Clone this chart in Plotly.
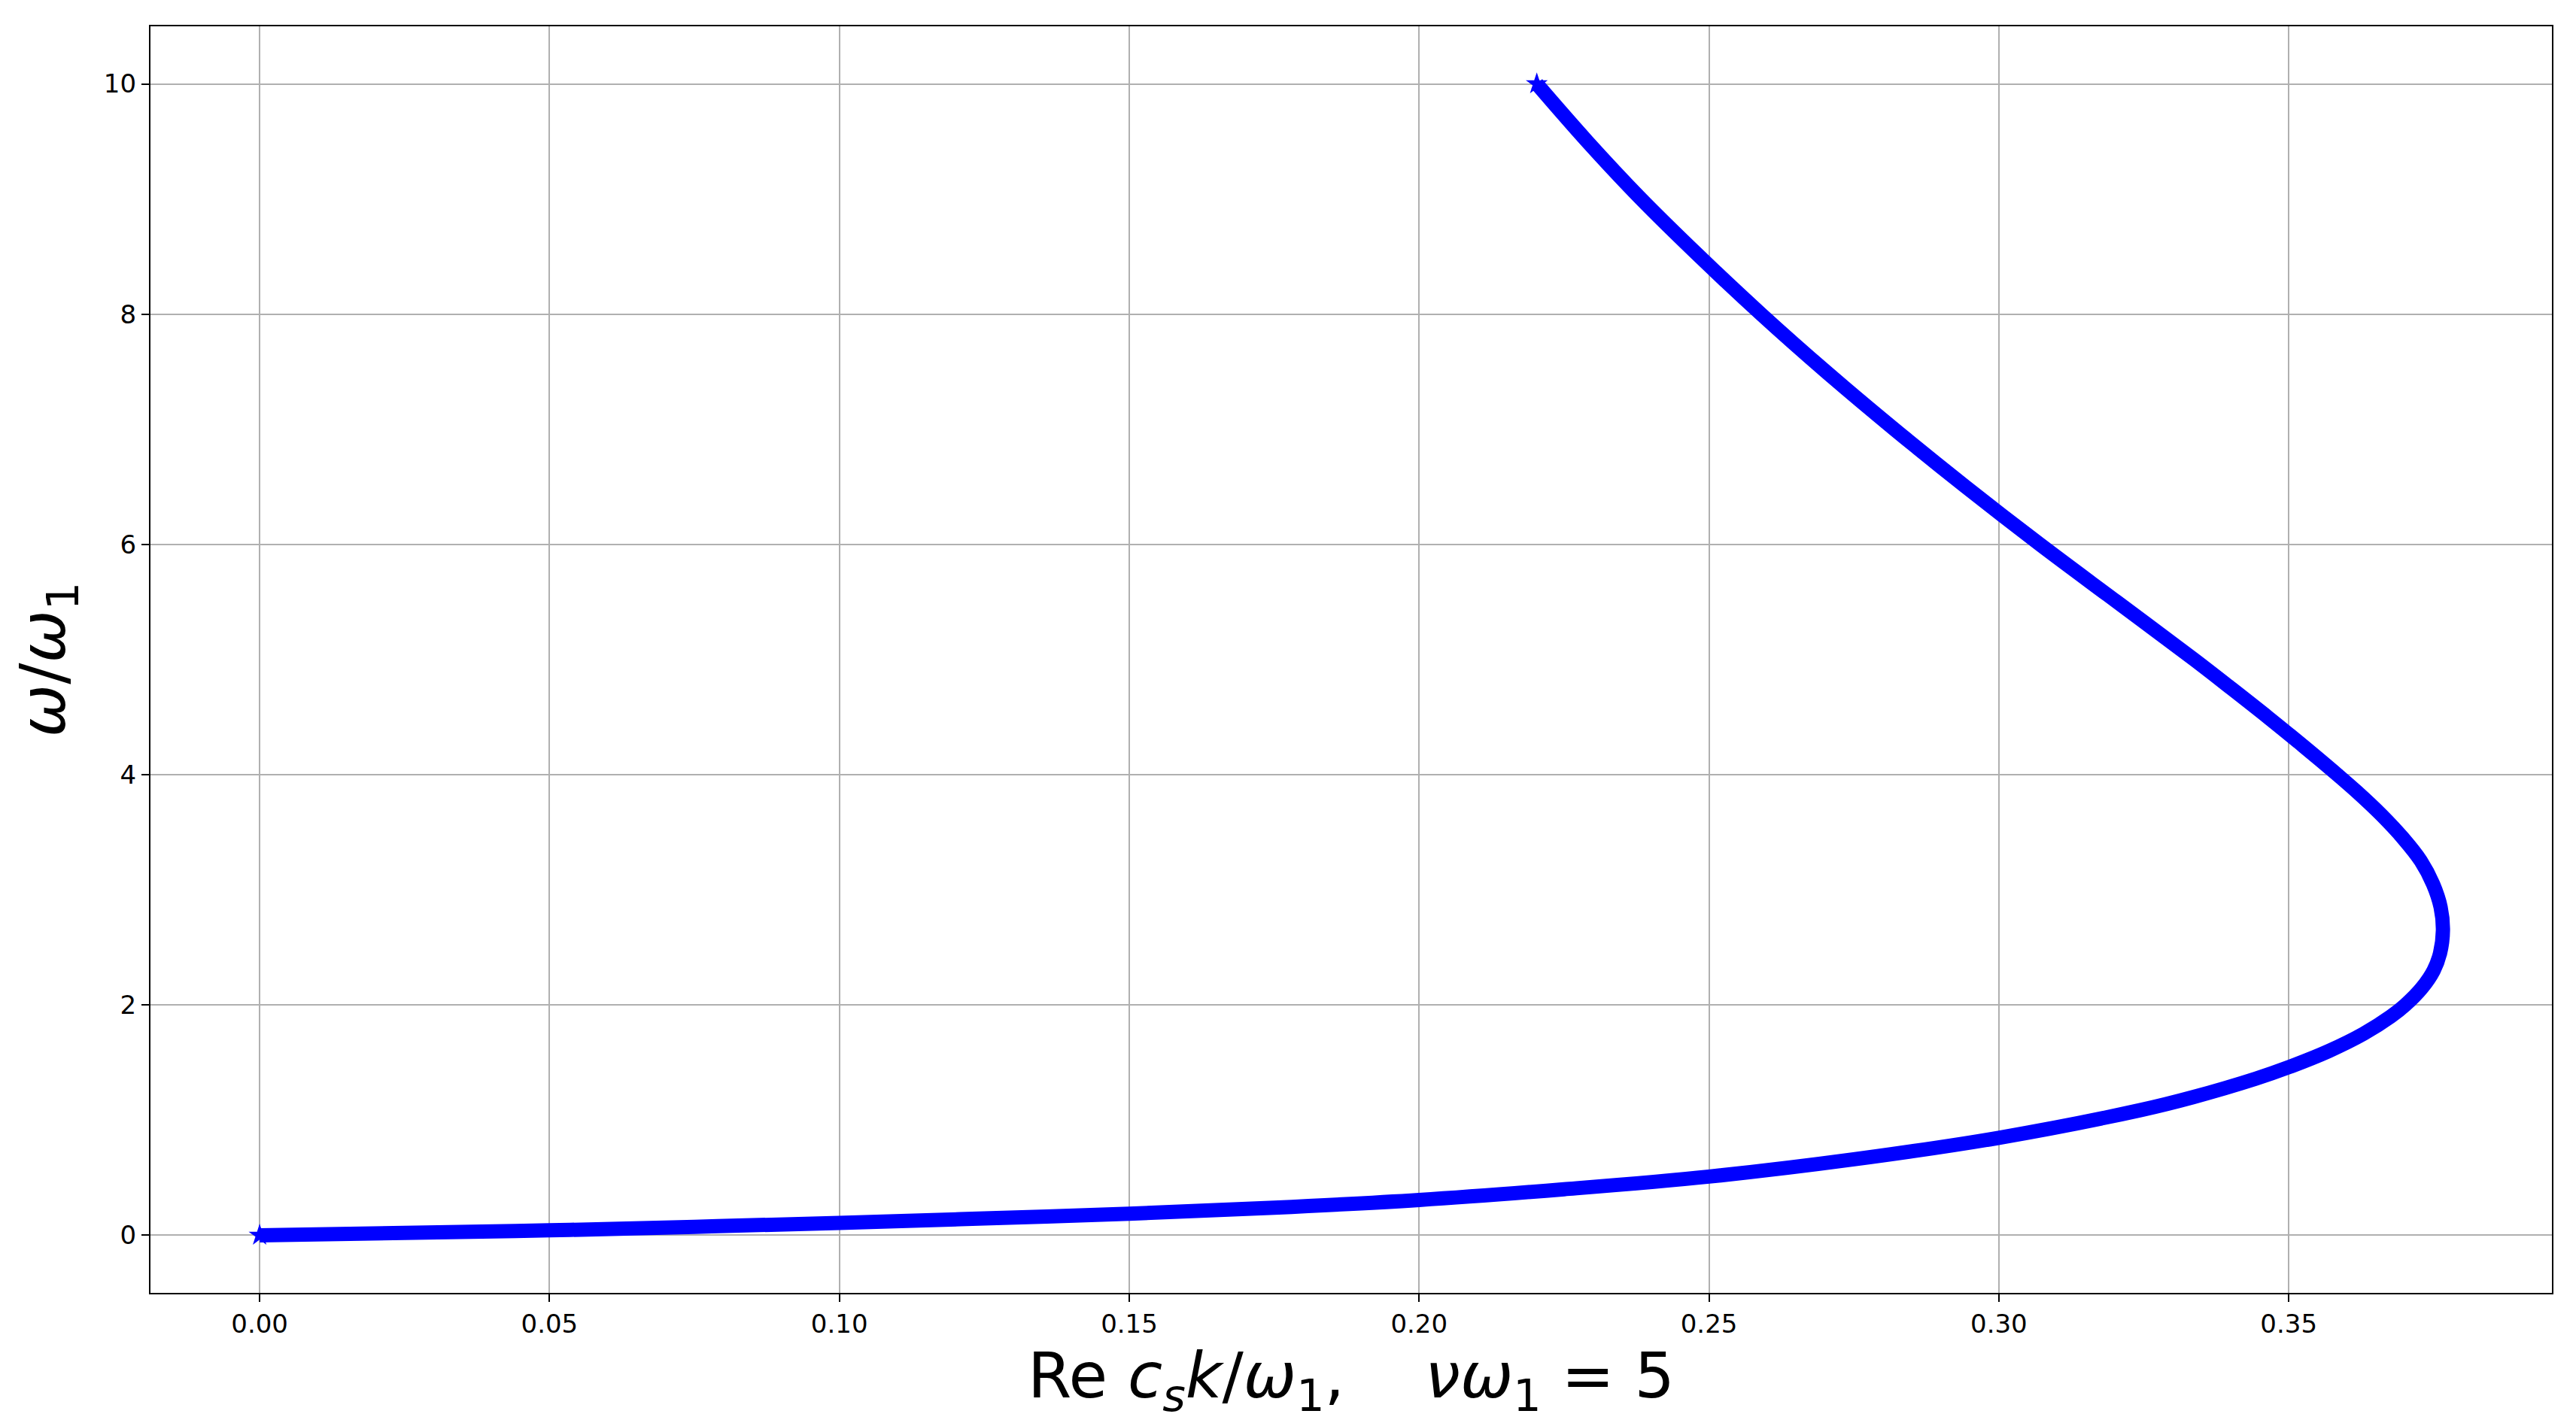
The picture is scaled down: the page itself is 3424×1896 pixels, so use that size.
import plotly.graph_objects as go

# Curve: Re c_s k / omega_1 (x) vs omega/omega_1 (y)
re_k = [0.000, 0.025, 0.050, 0.075, 0.100, 0.125, 0.150, 0.175, 0.200, 0.225,
        0.250, 0.275, 0.300, 0.3245, 0.3335, 0.3443, 0.3500, 0.3569, 0.3629,
        0.3676, 0.3701, 0.3730, 0.3750, 0.3761, 0.3766, 0.3762, 0.3749,
        0.3728, 0.3697, 0.3660, 0.3618, 0.3584, 0.3525, 0.3464, 0.3401,
        0.3337, 0.3204, 0.3071, 0.2943, 0.2820, 0.2702, 0.2590, 0.2484,
        0.2383, 0.2290, 0.2203]
omega = [0.000, 0.021, 0.043, 0.074, 0.108, 0.146, 0.187, 0.240, 0.307, 0.400,
         0.510, 0.660, 0.847, 1.088, 1.200, 1.360, 1.460, 1.600, 1.750,
         1.900, 2.000, 2.150, 2.300, 2.450, 2.650, 2.850, 3.050,
         3.250, 3.450, 3.650, 3.850, 4.000, 4.250, 4.500, 4.750,
         5.000, 5.500, 6.000, 6.500, 7.000, 7.500, 8.000, 8.500,
         9.000, 9.500, 10.000]

x_ticks = [0.00, 0.05, 0.10, 0.15, 0.20, 0.25, 0.30, 0.35]
y_ticks = [0, 2, 4, 6, 8, 10]

FONT = "DejaVu Sans"

fig = go.Figure()
fig.add_trace(go.Scatter(
    x=re_k, y=omega, mode="lines",
    line=dict(color="#0000ff", width=19, shape="spline", smoothing=1.0),
    showlegend=False,
))
fig.add_trace(go.Scatter(
    x=[re_k[0], re_k[-1]], y=[omega[0], omega[-1]], mode="markers",
    marker=dict(symbol="star", size=22, color="#0000ff", line=dict(width=0)),
    showlegend=False,
))

axis_common = dict(
    showline=True, linecolor="black", linewidth=2.2, mirror=True,
    showgrid=True, gridcolor="#b0b0b0", gridwidth=2.2,
    zeroline=False,
    ticks="outside", ticklen=10, tickwidth=2.2, tickcolor="black",
    tickfont=dict(family=FONT, size=34, color="black"),
)

fig.update_xaxes(
    range=[-0.01883, 0.3954], tickvals=x_ticks, tickformat=".2f",
    title=dict(
        text="Re <i>c<sub>s</sub>k</i>/<i>ω</i><sub>1</sub>,\u00a0\u00a0\u00a0\u00a0<i>νω</i><sub>1</sub> = 5",
        font=dict(family=FONT, size=84, color="black"), standoff=10),
    **axis_common,
)
fig.update_yaxes(
    range=[-0.5, 10.5], tickvals=y_ticks,
    title=dict(text="<i>ω</i>/<i>ω</i><sub>1</sub>",
               font=dict(family=FONT, size=84, color="black"), standoff=30),
    **axis_common,
)

fig.update_layout(
    width=3424, height=1896,
    margin=dict(l=192, r=40, t=27, b=185, pad=0),
    plot_bgcolor="white", paper_bgcolor="white",
    font=dict(family=FONT, color="black"),
)

fig.write_html("out.html")
